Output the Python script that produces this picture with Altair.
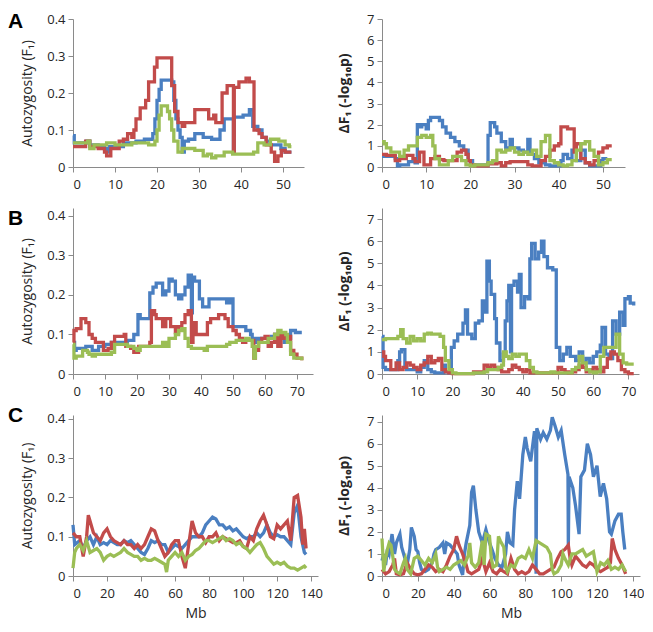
import altair as alt
import pandas as pd

BLUE = "#4A7FC1"
RED = "#C24B4A"
GREEN = "#9BBE55"

# ---------------- Panel A (left: autozygosity, right: dF1) ----------------
AL_blue = [(0,0.085),(0.3,0.065),(3.2,0.07),(4,0.06),(6,0.055),(7.5,0.05),(8,0.04),(8.7,0.055),(12,0.065),(15,0.07),(17,0.075),(19,0.09),(19.5,0.13),(20,0.18),(20.5,0.21),(21,0.235),(23.5,0.23),(24,0.18),(24.5,0.13),(25,0.1),(25.5,0.08),(26,0.04),(26.5,0.07),(27.5,0.075),(29,0.09),(31,0.08),(33,0.075),(35,0.1),(36,0.13),(38.2,0.04),(38.4,0.135),(40.5,0.14),(42,0.155),(42.8,0.11),(44,0.1),(45,0.08),(46,0.07),(47,0.06),(49.5,0.05),(50.5,0.04),(52,0.04)]
AL_red = [(0,0.055),(3,0.07),(4,0.055),(6,0.05),(7.5,0.04),(8,0.03),(9,0.05),(11,0.07),(12,0.075),(13,0.09),(14,0.08),(14.5,0.1),(15,0.13),(16,0.16),(17.3,0.18),(18,0.23),(19.4,0.27),(20,0.295),(23.5,0.22),(24.2,0.15),(25,0.12),(26,0.11),(26.6,0.12),(29,0.155),(32.3,0.13),(33.5,0.14),(34,0.12),(35.5,0.2),(36.7,0.22),(38.2,0.04),(38.4,0.215),(39.5,0.23),(41.2,0.24),(42,0.23),(43.1,0.1),(44.3,0.09),(45,0.08),(46,0.06),(47.2,0.04),(48,0.015),(48.8,0.03),(49.6,0.045),(50.5,0.04),(52,0.04)]
AL_green = [(0,0.065),(3.5,0.07),(4,0.05),(5,0.06),(8,0.065),(10,0.06),(14,0.065),(18,0.06),(19.5,0.07),(20,0.1),(20.5,0.14),(21,0.165),(22.5,0.15),(23,0.13),(23.5,0.1),(24,0.07),(25,0.04),(26,0.05),(29,0.045),(31,0.03),(32,0.035),(33,0.025),(34,0.03),(36,0.04),(38,0.035),(43,0.04),(44,0.065),(45.5,0.06),(47,0.075),(49,0.07),(50.5,0.06),(51.5,0.055),(52,0.055)]

AR_blue = [(0,0.5),(3,0.4),(3.5,0.05),(4,0.1),(6,0.25),(7.5,0.2),(8,2.0),(8.5,1.9),(9,2.0),(10,1.8),(10.5,2.2),(11,2.35),(13,2.2),(13.7,1.9),(14.5,1.6),(15.5,1.4),(16.5,1.2),(17.5,1.0),(18.5,0.8),(19.5,0.3),(20.5,0.1),(24,1.5),(24.5,2.1),(25.5,1.9),(26,1.6),(27,1.2),(28,0.9),(29,1.3),(29.5,0.9),(31,0.8),(32,0.7),(33,1.3),(33.5,0.6),(34.5,0.4),(35.5,0.2),(37,0.1),(38,0.05),(40.5,0.3),(41,0.6),(42,0.4),(43,0.8),(44,0.3),(45,0.8),(46,0.2),(47,0.05),(49.5,0.3),(50,0.4),(51,0.4)]
AR_red = [(0,0.6),(1,0.55),(3,0.3),(4,0.4),(5.5,0.55),(7,0.4),(7.5,0.25),(8.5,0.7),(9.5,0.1),(11,0.4),(12,0.5),(13,0.35),(14,0.3),(17,0.7),(18,0.8),(19,0.6),(19.5,0.3),(20,0.1),(21,0.05),(24,0.15),(26,0.2),(27,0.05),(28,0.2),(29,0.25),(33,0.1),(34,0.05),(36,0.3),(37,0.5),(38,0.8),(39,1.0),(40,1.1),(40.5,1.9),(42,1.8),(43.5,0.7),(44,1.1),(45,0.4),(46,0.2),(47,0.1),(48,0.3),(49,0.7),(50,0.9),(51,1.0),(52,1.0)]
AR_green = [(0,1.2),(0.5,1.1),(1,0.9),(2,0.7),(4,0.5),(5,0.8),(6,1.0),(8,1.4),(9,1.5),(10,1.4),(11,1.5),(11.5,1.0),(12,0.4),(13,0.1),(15,0.3),(16,0.5),(18,0.3),(19,0.1),(20,0.05),(21,0.1),(24,0.2),(25,0.3),(26,0.8),(27,0.7),(28,0.8),(29,0.9),(30,0.7),(31,0.6),(32,0.7),(33,0.6),(34,0.8),(35,0.5),(36,1.2),(37,1.5),(38,0.3),(39,0.2),(40,0.1),(41,0.05),(42,0.1),(43,0.3),(44,0.8),(45,1.1),(46,1.2),(47,0.8),(48,0.5),(49,0.1),(50,0.2),(51,0.35),(52,0.35)]

# ---------------- Panel B ----------------
BL_blue = [(0,0.08),(0.5,0.06),(1,0.065),(4,0.07),(6,0.06),(8,0.07),(10,0.075),(12,0.08),(17,0.085),(19,0.1),(20.3,0.15),(21,0.14),(24,0.205),(25,0.22),(26,0.23),(28,0.2),(29,0.21),(30,0.24),(31,0.235),(32,0.2),(33,0.19),(34,0.2),(35,0.22),(36,0.25),(37,0.155),(37.3,0.245),(38,0.235),(39.5,0.19),(40.5,0.17),(42.5,0.19),(48,0.18),(49,0.19),(50,0.12),(54,0.11),(55.5,0.1),(56,0.09),(57,0.08),(58,0.09),(62,0.095),(63,0.1),(66,0.08),(67,0.09),(68,0.11),(69.5,0.105),(71.5,0.105)]
BL_red = [(0,0.08),(0.3,0.11),(1,0.115),(2.5,0.14),(4,0.13),(5,0.1),(6,0.09),(7,0.08),(9.5,0.06),(11,0.065),(12,0.08),(13,0.095),(16,0.1),(16.5,0.07),(18,0.065),(19,0.055),(20.5,0.07),(24,0.08),(24.5,0.16),(25.5,0.15),(26,0.14),(28,0.12),(29,0.14),(30.5,0.12),(32,0.105),(33,0.12),(34,0.13),(35,0.15),(36,0.16),(37,0.08),(37.5,0.13),(38.5,0.1),(42,0.13),(43,0.14),(45.5,0.15),(47.5,0.14),(48.5,0.12),(50,0.11),(51,0.1),(52,0.09),(53,0.08),(54,0.085),(56.5,0.04),(57,0.06),(58,0.08),(59,0.09),(60,0.095),(61,0.07),(62,0.08),(63,0.1),(64,0.07),(65,0.1),(66,0.09),(67,0.095),(68,0.06),(69,0.05),(70,0.04),(71.5,0.035)]
BL_green = [(0,0.075),(0.3,0.04),(1,0.045),(3,0.06),(4.5,0.055),(5,0.05),(6,0.045),(7,0.05),(12,0.055),(13,0.075),(17,0.07),(19,0.065),(20,0.06),(21,0.07),(28,0.08),(29,0.07),(30,0.09),(32,0.1),(33,0.11),(34,0.115),(35,0.09),(36,0.07),(37,0.065),(41,0.06),(42,0.07),(48,0.075),(49,0.08),(51,0.085),(54,0.09),(55,0.085),(56,0.07),(56.5,0.04),(57,0.07),(58,0.08),(61,0.09),(63,0.1),(64,0.11),(65,0.105),(66.5,0.1),(67,0.08),(68,0.05),(69,0.04),(71.5,0.035)]

BR_blue = [(0,1.7),(0.3,0.3),(1,0.2),(4.5,0.6),(5,1.0),(5.5,1.1),(6.5,0.3),(7,0.2),(10,0.1),(11,0.3),(12,0.6),(13,0.2),(14,0.1),(15,0.05),(17.5,0.4),(18,0.1),(19,0.05),(19.7,1.2),(20.5,1.5),(21.5,1.8),(23,2.3),(23.7,2.9),(24.3,1.8),(25.5,1.6),(26.5,2.3),(27.5,2.4),(28.5,3.3),(29.3,2.8),(29.8,5.1),(30.5,4.2),(31,3.6),(32,2.5),(32.5,1.4),(33.5,0.6),(34.5,0.9),(35,2.4),(35.5,3.3),(36,4.0),(36.5,1.0),(36.8,4.0),(37.5,4.2),(38.5,3.7),(39,4.5),(39.5,3.0),(40.5,3.5),(41.5,3.4),(42,5.2),(42.5,5.9),(43.5,5.2),(44.5,5.5),(45.3,6.0),(46,5.3),(47,4.8),(48.5,4.7),(49.5,1.2),(50.5,0.6),(51.5,0.9),(52.5,1.2),(53.5,0.8),(55,0.6),(56,1.0),(57,0.5),(58,0.7),(59,0.5),(60,0.8),(61,1.0),(62,1.3),(62.5,2.1),(63.5,0.9),(64.5,0.7),(65.5,2.4),(66.5,1.8),(67.5,2.8),(68.5,2.2),(69,3.4),(70,3.5),(70.5,3.2),(71.5,3.1)]
BR_red = [(0,1.0),(0.5,0.8),(1,0.6),(2.5,0.2),(4,0.5),(5,0.2),(6,0.3),(7,0.5),(8,0.4),(9,0.3),(10,0.2),(11,0.4),(12,0.5),(13,0.8),(14,0.5),(15,0.6),(16,0.7),(17,0.2),(18,0.1),(19,0.05),(20,0.02),(26,0.1),(29,0.4),(30,0.3),(31,0.4),(32,0.3),(33,0.2),(34,0.1),(36,0.2),(37,0.4),(38,0.3),(39,0.2),(40,0.1),(41,0.2),(42,0.05),(50,0.3),(51,0.2),(52,0.1),(53,0.05),(54,0.1),(55,0.2),(56,0.4),(57,0.3),(58,0.1),(59,0.2),(60,0.3),(61,0.2),(62,0.1),(63,0.3),(64,0.7),(65,1.0),(66,0.9),(67,0.6),(68,0.2),(69,0.1),(70,0.02),(71.5,0.02)]
BR_green = [(0,1.55),(1,1.6),(4.5,1.7),(5.3,2.0),(6,1.6),(7,1.4),(8,1.7),(9,1.5),(10,1.6),(11,1.5),(12,1.8),(13,1.85),(14,1.8),(16.5,1.7),(17.5,1.2),(18,0.6),(19,0.2),(20,0.05),(21,0.02),(26,0.05),(29,0.1),(30,0.2),(33,0.3),(34,0.4),(34.5,1.0),(35.3,0.8),(36,0.7),(37,0.9),(38,0.8),(39,0.9),(40,0.9),(41,0.6),(42,0.3),(43,0.1),(44,0.05),(48,0.1),(49,0.05),(54,0.2),(55,0.3),(56,0.8),(57,0.5),(58,0.2),(59,0.1),(60,0.05),(61,0.1),(62,0.8),(63,1.2),(66.5,1.8),(67.5,0.9),(68.5,0.5),(69.5,0.45),(71.5,0.45)]

# ---------------- Panel C ----------------
CL_blue = [(0,0.13),(1,0.08),(4,0.09),(6,0.07),(8,0.09),(10,0.1),(12,0.08),(14,0.1),(16,0.08),(18,0.085),(20,0.08),(22,0.09),(24,0.085),(26,0.08),(28,0.08),(30,0.09),(32,0.085),(34,0.09),(36,0.08),(38,0.07),(40,0.06),(42,0.055),(44,0.07),(46,0.09),(48,0.085),(50,0.09),(52,0.08),(54,0.08),(56,0.06),(58,0.07),(60,0.08),(62,0.075),(64,0.07),(66,0.08),(68,0.09),(70,0.1),(72,0.1),(74,0.1),(76,0.11),(78,0.13),(80,0.14),(82,0.15),(84,0.145),(86,0.13),(88,0.13),(90,0.12),(92,0.125),(94,0.115),(96,0.12),(98,0.11),(100,0.1),(102,0.095),(104,0.1),(106,0.1),(108,0.11),(110,0.1),(112,0.11),(114,0.13),(116,0.11),(118,0.1),(120,0.105),(122,0.1),(124,0.1),(126,0.09),(128,0.08),(130,0.16),(132,0.18),(134,0.1),(136,0.06),(137,0.055)]
CL_red = [(0,0.11),(2,0.1),(4,0.1),(6,0.05),(8,0.1),(9,0.155),(10,0.14),(12,0.11),(14,0.1),(16,0.09),(18,0.11),(20,0.12),(22,0.1),(24,0.09),(26,0.085),(28,0.08),(30,0.09),(32,0.08),(34,0.08),(36,0.07),(38,0.08),(40,0.07),(42,0.08),(44,0.1),(46,0.12),(48,0.115),(50,0.09),(52,0.07),(54,0.05),(56,0.06),(58,0.08),(60,0.09),(62,0.09),(64,0.05),(66,0.02),(68,0.08),(70,0.14),(72,0.11),(74,0.1),(76,0.1),(78,0.085),(80,0.1),(82,0.1),(84,0.11),(86,0.09),(88,0.1),(90,0.095),(92,0.09),(94,0.085),(96,0.085),(98,0.09),(100,0.075),(102,0.07),(104,0.1),(106,0.09),(108,0.12),(110,0.14),(112,0.155),(114,0.13),(116,0.1),(118,0.095),(120,0.13),(122,0.12),(124,0.13),(126,0.14),(128,0.09),(130,0.2),(132,0.205),(134,0.15),(135,0.08),(136,0.12),(137,0.07)]
CL_green = [(0,0.02),(1,0.06),(2,0.07),(4,0.08),(6,0.065),(8,0.09),(10,0.06),(12,0.065),(14,0.07),(16,0.06),(18,0.04),(20,0.05),(22,0.055),(24,0.05),(26,0.055),(28,0.06),(30,0.07),(32,0.06),(34,0.055),(36,0.05),(38,0.05),(40,0.04),(42,0.045),(44,0.04),(46,0.04),(48,0.045),(50,0.04),(52,0.035),(54,0.03),(55,0.01),(56,0.04),(58,0.05),(60,0.06),(62,0.05),(64,0.06),(66,0.04),(68,0.05),(70,0.055),(72,0.065),(74,0.07),(76,0.08),(78,0.09),(80,0.09),(82,0.085),(84,0.09),(86,0.095),(88,0.1),(90,0.09),(92,0.095),(94,0.09),(96,0.08),(98,0.085),(100,0.075),(102,0.07),(104,0.06),(106,0.07),(108,0.08),(110,0.085),(112,0.07),(114,0.05),(116,0.04),(118,0.03),(120,0.035),(122,0.03),(124,0.035),(126,0.025),(128,0.02),(130,0.02),(132,0.015),(134,0.02),(136,0.025),(137,0.02)]

CR_blue = [(0,0.7),(1,1.0),(2,0.5),(3,1.2),(4,1.0),(5.6,1.9),(7,1.0),(8,1.5),(10,1.9),(11,1.3),(12.8,0.8),(14,0.5),(15.5,1.2),(16.4,2.2),(18,1.8),(19,1.2),(20,1.1),(21,0.6),(22,0.3),(24,0.2),(26,0.3),(28,0.6),(29,1.0),(30,1.2),(32,1.3),(34,1.5),(35,1.0),(36,1.5),(38,1.4),(40,1.2),(42,1.0),(43,0.5),(45,0.05),(46,1.0),(47,1.5),(49,2.3),(50,3.8),(51,4.1),(52.4,3.0),(54,2.0),(56,1.5),(58,2.1),(60,1.5),(61.4,1.2),(63,0.8),(65,0.5),(67,0.4),(69,1.0),(70,2.0),(71.4,1.5),(73,1.4),(74,3.0),(75.5,4.3),(76.8,3.5),(78.6,5.5),(80,6.3),(81,5.8),(83,5.2),(85,6.5),(85.8,6.5),(86,0.1),(86.4,6.7),(88.5,6.2),(90,6.5),(92,6.2),(94,6.6),(95,7.2),(96.6,6.8),(98.4,6.3),(100,6.6),(102,5.5),(103,5.0),(103.8,4.6),(104,1.3),(104.4,4.5),(106.5,4.0),(108,3.2),(110,1.9),(111,4.5),(113,4.8),(114.6,6.0),(116.4,5.5),(118,4.5),(120,5.0),(121.8,3.6),(123.6,4.2),(125.4,3.5),(127,2.0),(128,1.9),(130,2.5),(132,2.8),(133.5,2.8),(134.4,2.0),(135.5,1.2)]
CR_red = [(0,0.3),(2,0.1),(4,0.2),(6,0.5),(7,0.8),(8,0.1),(10,0.05),(12,0.1),(14,0.6),(16,0.3),(18,0.1),(20,0.05),(22,0.1),(24,0.3),(26,0.5),(28,0.4),(30,0.2),(32,0.3),(34,0.2),(36,0.5),(38,0.9),(40,1.2),(41.6,1.8),(43,1.4),(45,1.0),(47,0.5),(48,0.2),(50,0.1),(52,0.2),(54,0.3),(56,0.8),(58,0.2),(60,0.6),(62,0.2),(64,0.1),(66,0.3),(68,0.2),(70,0.1),(72,0.8),(74,0.3),(76,0.1),(78,0.2),(80,0.1),(82,0.2),(84,0.5),(86,0.3),(88,0.1),(90,0.1),(92,0.2),(94,0.3),(96,0.4),(98,0.8),(100,1.1),(102,1.2),(104,1.4),(105,0.8),(106,0.5),(108,0.9),(110,0.7),(112,0.5),(114,0.4),(116,0.6),(118,0.5),(120,0.3),(122,0.2),(124,0.3),(126,0.4),(127.5,0.6),(128.5,1.7),(130,1.2),(132,0.8),(134,0.5),(136,0.1)]
CR_green = [(0,1.7),(1,0.2),(2,0.8),(3,1.2),(4,1.5),(5,1.4),(6,0.9),(7,0.3),(8,0.2),(10,0.1),(12,0.6),(13,0.8),(14,0.3),(16,0.1),(18,0.8),(20,0.9),(22,0.7),(24,0.5),(26,0.8),(28,0.6),(30,1.0),(31,0.4),(32,0.2),(34,0.3),(36,0.4),(38,0.3),(40,0.5),(42,0.6),(44,0.7),(46,0.5),(48,0.9),(49,1.5),(50,0.6),(52,0.4),(54,0.6),(56,1.6),(57,0.5),(58,1.9),(60,1.8),(61,0.8),(62,0.4),(64,0.5),(65,1.8),(66,1.6),(68,1.3),(69,0.4),(70,0.2),(72,0.5),(74,0.4),(76,0.8),(78,0.9),(80,0.8),(82,1.2),(84,0.8),(86,1.6),(88,1.5),(90,1.4),(92,1.3),(94,1.0),(95,0.3),(96,0.1),(98,0.2),(100,0.5),(101,1.0),(102,0.8),(104,0.5),(106,1.0),(108,1.0),(110,1.1),(112,1.2),(114,0.9),(116,1.0),(118,1.1),(120,0.2),(122,0.6),(124,0.5),(126,0.7),(128,0.3),(130,0.4),(132,0.3),(134,0.5),(136,0.2)]

LEFT_Y_TICKS = [0, 0.1, 0.2, 0.3, 0.4]
RIGHT_Y_TICKS = [0, 1, 2, 3, 4, 5, 6, 7]
LEFT_TITLE = "Autozygosity (F\u2081)"
RIGHT_TITLE = "\u0394F\u2081 (-log\u2081\u2080p)"
PANEL_LETTERS = ["A", "B", "C"]

FONT = "Open Sans"


def panel(series, xdom, xticks, ydom, yticks, ytitle, w, h, interp,
          letter=None, letter_y=0, xtitle=None, left=True):
    xaxis = dict(values=xticks, labelPadding=6, tickSize=5)
    if xtitle:
        xaxis.update(title=xtitle, titleFontSize=14, titleFontWeight="normal",
                     titlePadding=6)
    else:
        xaxis.update(title=None)
    yaxis = dict(values=yticks, title=ytitle, tickSize=5, labelPadding=3,
                 titleFontSize=14)
    if left:
        yaxis.update(labelExpr="datum.value == 0 ? '0' : format(datum.value, '.1f')",
                     titleFontWeight="normal", titlePadding=12)
    else:
        yaxis.update(titleFontWeight="bold", titlePadding=15)
    layers = []
    for pts, col in series:
        df = pd.DataFrame(pts, columns=["x", "y"])
        layers.append(
            alt.Chart(df).mark_line(color=col, strokeWidth=3.3, interpolate=interp,
                                    strokeJoin="miter")
            .encode(
                x=alt.X("x:Q", scale=alt.Scale(domain=xdom, nice=False, zero=False),
                        axis=alt.Axis(**xaxis)),
                y=alt.Y("y:Q", scale=alt.Scale(domain=ydom, nice=False),
                        axis=alt.Axis(**yaxis)),
            )
        )
    if letter:
        layers.append(
            alt.Chart(pd.DataFrame({"t": [letter]})).mark_text(
                align="left", baseline="top", fontSize=21, fontWeight="bold",
                font="Liberation Sans", color="black")
            .encode(x=alt.value(-65), y=alt.value(letter_y), text="t:N")
        )
    return alt.layer(*layers).properties(width=w, height=h)


A_left = panel([(AL_blue, BLUE), (AL_red, RED), (AL_green, GREEN)],
               [0, 55], [0, 10, 20, 30, 40, 50], [0, 0.4], LEFT_Y_TICKS, LEFT_TITLE,
               231, 148, "step-after", letter=PANEL_LETTERS[0], letter_y=-8)
A_right = panel([(AR_blue, BLUE), (AR_red, RED), (AR_green, GREEN)],
                [0, 55], [0, 10, 20, 30, 40, 50], [0, 7], RIGHT_Y_TICKS, RIGHT_TITLE,
                243, 148, "step-after", left=False)
B_left = panel([(BL_blue, BLUE), (BL_red, RED), (BL_green, GREEN)],
               [0, 75], [0, 10, 20, 30, 40, 50, 60, 70], [0, 0.42], LEFT_Y_TICKS, LEFT_TITLE,
               240, 166, "step-after", letter=PANEL_LETTERS[1], letter_y=0)
B_right = panel([(BR_blue, BLUE), (BR_red, RED), (BR_green, GREEN)],
                [0, 73], [0, 10, 20, 30, 40, 50, 60, 70], [0, 7.5], RIGHT_Y_TICKS, RIGHT_TITLE,
                257, 166, "step-after", left=False)
C_left = panel([(CL_blue, BLUE), (CL_red, RED), (CL_green, GREEN)],
               [0, 144], [0, 20, 40, 60, 80, 100, 120, 140], [0, 0.41], LEFT_Y_TICKS, LEFT_TITLE,
               245, 161, "linear", letter=PANEL_LETTERS[2], letter_y=-10, xtitle="Mb")
C_right = panel([(CR_blue, BLUE), (CR_red, RED), (CR_green, GREEN)],
                [0, 144], [0, 20, 40, 60, 80, 100, 120, 140], [0, 7.3], RIGHT_Y_TICKS, RIGHT_TITLE,
                258, 161, "linear", xtitle="Mb", left=False)

chart = alt.concat(
    A_left, A_right, B_left, B_right, C_left, C_right,
    columns=2, spacing={"row": 41, "column": 64}, bounds="flush", align="each",
).properties(
    padding={"left": 0, "top": 3, "right": 0, "bottom": 0}
).configure_view(stroke=None).configure_axis(
    grid=False, domainColor="#8a8a8a", tickColor="#8a8a8a", domainWidth=1,
    labelColor="#262626", labelFont=FONT, labelFontSize=13,
    titleFont=FONT, titleColor="#262626",
)

chart.save("out.html", embed_options={"renderer": "svg", "actions": False})
